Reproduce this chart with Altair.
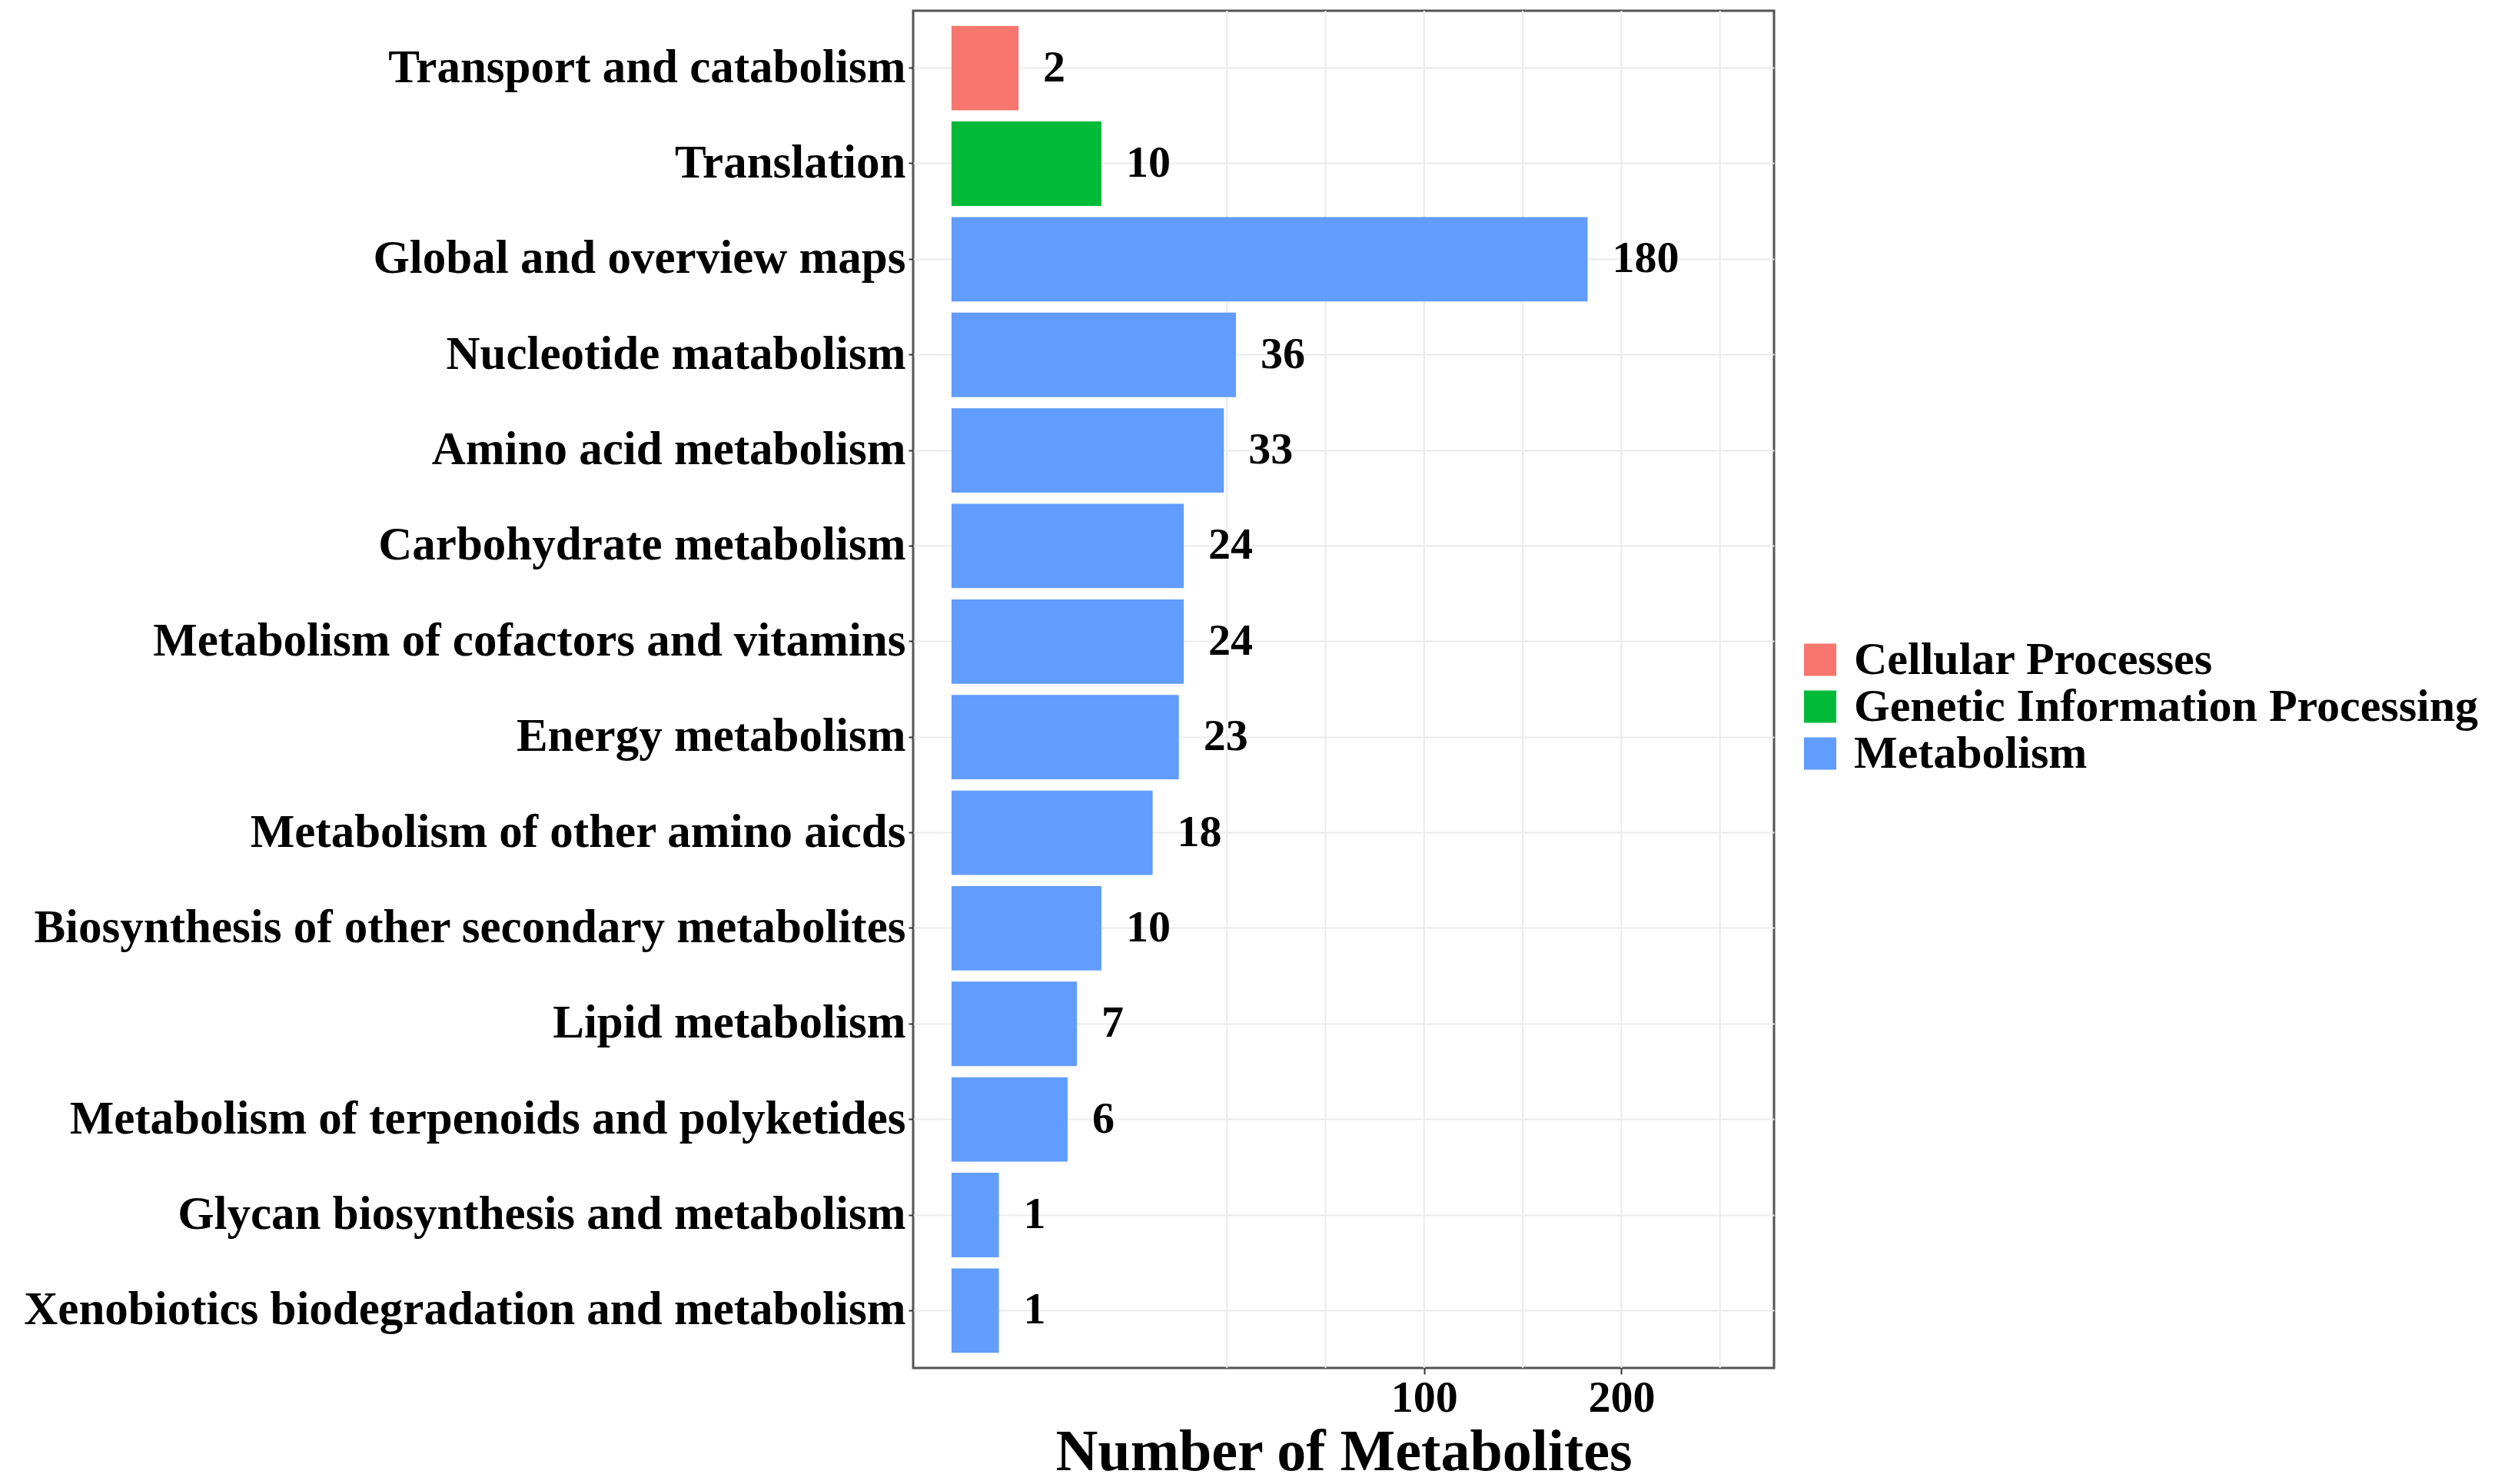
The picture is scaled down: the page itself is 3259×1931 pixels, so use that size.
import altair as alt
import pandas as pd

categories = [
    "Transport and catabolism",
    "Translation",
    "Global and overview maps",
    "Nucleotide matabolism",
    "Amino acid metabolism",
    "Carbohydrate metabolism",
    "Metabolism of cofactors and vitamins",
    "Energy metabolism",
    "Metabolism of other amino aicds",
    "Biosynthesis of other secondary metabolites",
    "Lipid metabolism",
    "Metabolism of terpenoids and polyketides",
    "Glycan biosynthesis and metabolism",
    "Xenobiotics biodegradation and metabolism",
]
counts = [2, 10, 180, 36, 33, 24, 24, 23, 18, 10, 7, 6, 1, 1]
groups = ["Cellular Processes", "Genetic Information Processing"] + ["Metabolism"] * 12
group_names = ["Cellular Processes", "Genetic Information Processing", "Metabolism"]
group_colors = ["#F8766D", "#00BA38", "#619CFF"]
grid_values = [0, 50, 100, 150, 200, 250]
tick_labels = [100, 200]

df = pd.DataFrame({"pathway": categories, "count": counts, "group": groups})
grid_df = pd.DataFrame({"g": grid_values})

FONT = "Liberation Serif"

grid = alt.Chart(grid_df).mark_rule(color="#EBEBEB", strokeWidth=2).encode(
    x=alt.X(
        "g:Q",
        scale=alt.Scale(type="linear", domain=[-159.1, 277.4], nice=False, zero=False),
        axis=alt.Axis(
            values=tick_labels,
            title="Number of Metabolites",
            titleFont=FONT,
            titleFontSize=76,
            titleFontWeight="bold",
            titleColor="black",
            titlePadding=4,
            labelFont=FONT,
            labelFontSize=58,
            labelFontWeight="bold",
            labelColor="black",
            labelPadding=2,
            tickSize=8,
            tickWidth=2,
            tickColor="#333333",
            grid=False,
            domain=False,
        ),
    )
)

yenc = alt.Y(
    "pathway:N",
    sort=categories,
    title=None,
    scale=alt.Scale(paddingInner=0.117, paddingOuter=0.1585),
    axis=alt.Axis(
        labelFont=FONT,
        labelFontSize=61,
        labelFontWeight="bold",
        labelColor="black",
        labelPadding=4,
        labelLimit=2000,
        tickSize=6,
        tickWidth=2,
        tickColor="#333333",
        domain=False,
        grid=True,
        gridColor="#EBEBEB",
        gridWidth=2,
    ),
)

xscale = alt.Scale(type="sqrt", domain=[-0.654, 301], nice=False, zero=False)

bars = alt.Chart(df).mark_bar().encode(
    x=alt.X("count:Q", scale=xscale, axis=None),
    x2=alt.datum(0),
    y=yenc,
    color=alt.Color(
        "group:N",
        scale=alt.Scale(domain=group_names, range=group_colors),
        legend=alt.Legend(
            title=None,
            orient="none",
            legendX=1150,
            legendY=818,
            labelFont=FONT,
            labelFontSize=60,
            labelFontWeight="bold",
            labelColor="black",
            labelLimit=2000,
            symbolType="square",
            symbolSize=1764,
            symbolStrokeWidth=0,
            symbolOpacity=1,
            rowPadding=0,
            clipHeight=53,
            labelOffset=14,
        ),
    ),
)

text = alt.Chart(df).mark_text(
    align="left", baseline="middle", dx=32, font=FONT, fontWeight="bold", fontSize=58, color="black"
).encode(
    x=alt.X("count:Q", scale=xscale, axis=None),
    y=alt.Y("pathway:N", sort=categories),
    text="count:Q",
)

chart = (
    alt.layer(grid, alt.layer(bars, text))
    .resolve_scale(x="independent")
    .properties(width=1120, height=1766, padding={"left": 22, "top": 5, "right": 5, "bottom": 0})
    .configure_view(stroke="#555555", strokeWidth=3)
)

chart.save("out.html", embed_options={"renderer": "svg", "actions": False})
